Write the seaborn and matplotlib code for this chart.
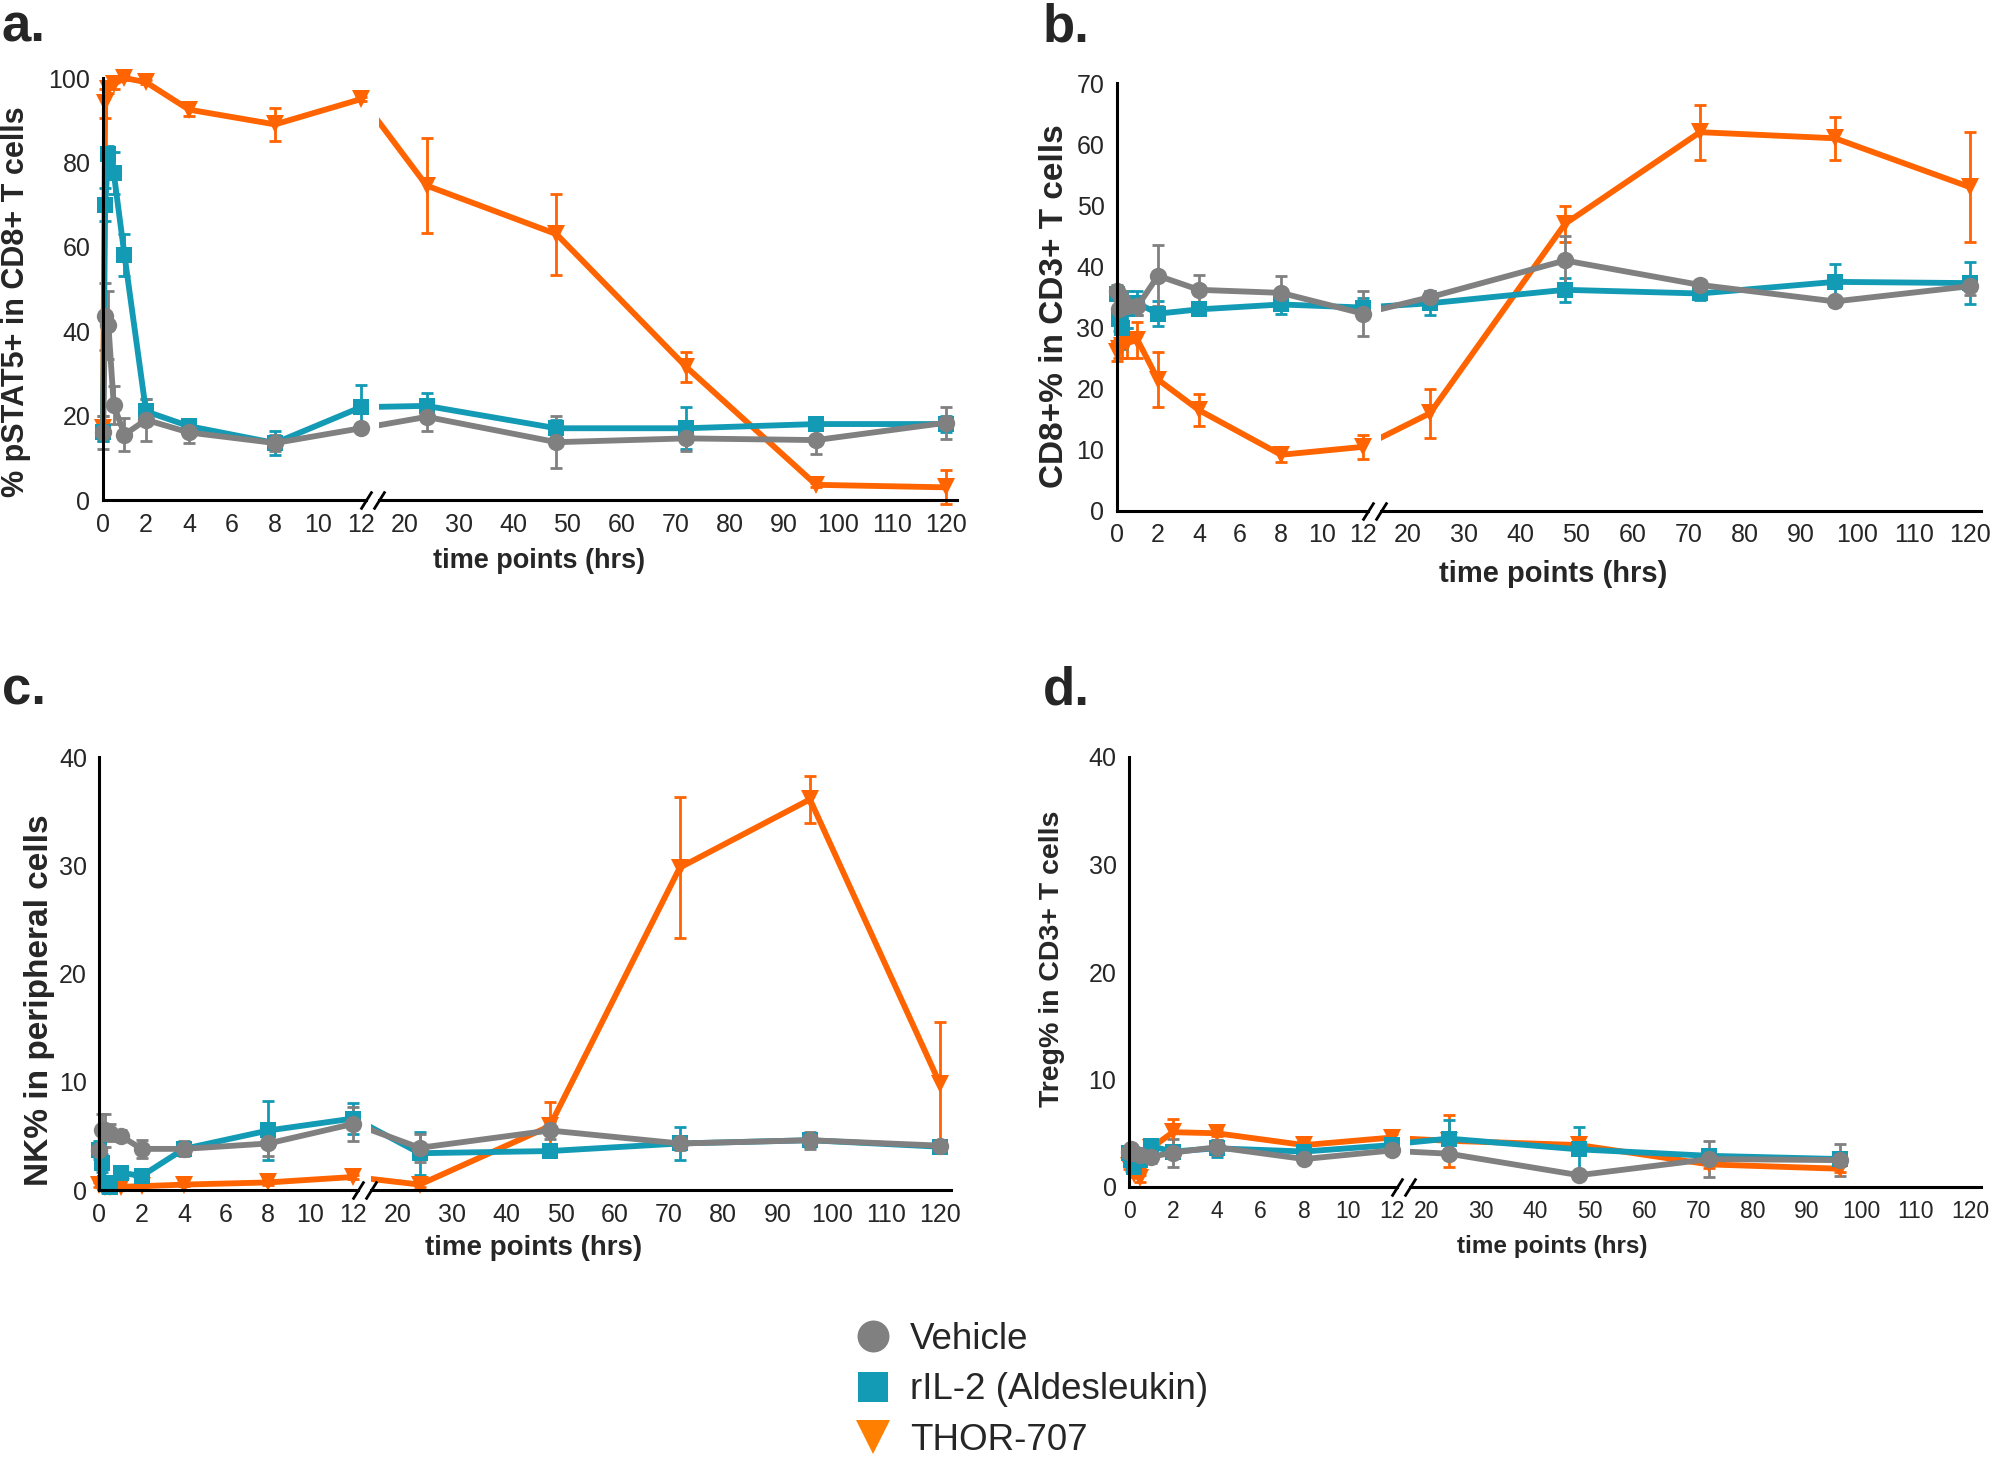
import numpy as np
import pandas as pd
import matplotlib
matplotlib.use("Agg")
import matplotlib.pyplot as plt
import seaborn as sns
from matplotlib.lines import Line2D
from matplotlib.transforms import Bbox, TransformedBbox

# sampling times (hrs)
times = [0, 0.1, 0.25, 0.5, 1, 2, 4, 8, 12, 24, 48, 72, 96, 120]

groups = ["Vehicle", "rIL-2 (Aldesleukin)", "THOR-707"]

# a. % pSTAT5+ in CD8+ T cells
a_vehicle = [16, 43.5, 41.5, 22.5, 15.5, 19, 16, 13.5, 17, 19.7, 13.7, 14.6, 14.2, 18.3]
a_vehicle_err = [4, 8, 8, 4.5, 4, 5, 2.5, 2, 0.5, 3.3, 6.2, 3, 3.4, 3.8]
a_il2 = [16, 70, 82, 77.5, 58, 21, 17.5, 13.5, 22, 22.3, 17, 17, 18, 18]
a_il2_err = [2, 4, 2, 5, 5, 3, 1.5, 2.8, 5.3, 3, 2, 5, 1, 2]
a_thor = [17, 94, 97.5, 98.5, 100, 99, 92.5, 89, 95, 74.5, 63, 31.5, 3.6, 3]
a_thor_err = [3, 3.5, 1, 1, 0.5, 0.5, 1.5, 4, 0.5, 11.2, 9.6, 3.6, 0.5, 4]

# b. CD8+% in CD3+ T cells
b_vehicle = [36, 33, 34.5, 33.5, 33.5, 38.5, 36.2, 35.7, 32.3, 35, 41, 37, 34.3, 36.8]
b_vehicle_err = [1, 2, 1.5, 1.5, 1.5, 5, 2.4, 2.8, 3.7, 1, 4, 0.8, 0.8, 1.5]
b_il2 = [35.5, 31.5, 30, 33, 34, 32.3, 33, 33.8, 33.3, 34, 36.2, 35.6, 37.5, 37.3]
b_il2_err = [1, 2, 3.5, 3, 2, 2, 1, 1.5, 1.5, 2, 2, 1, 3, 3.5]
b_thor = [26, 26.5, 27, 27.5, 28, 21.5, 16.5, 9.2, 10.5, 16, 47, 62, 61, 53]
b_thor_err = [1.5, 1.5, 2, 2.5, 3, 4.5, 2.6, 1.2, 2, 4, 3, 4.5, 3.5, 9]

# c. NK% in peripheral cells
c_vehicle = [3.7, 5.5, 5.5, 5.3, 5.0, 3.8, 3.8, 4.3, 6.1, 3.9, 5.5, 4.3, 4.6, 4.1]
c_vehicle_err = [0.5, 1.5, 1.5, 0.8, 0.5, 0.8, 0.7, 1.2, 1.6, 1.3, 0.8, 0.6, 0.8, 0.4]
c_il2 = [3.7, 2.5, 0.65, 0.3, 1.6, 1.3, 3.8, 5.5, 6.6, 3.4, 3.6, 4.3, 4.6, 4.0]
c_il2_err = [0.8, 0.8, 0.3, 0.2, 0.5, 0.4, 0.5, 2.7, 1.4, 2.0, 0.4, 1.5, 0.6, 0.6]
c_thor = [0.5, 0.4, 0.3, 0.3, 0.3, 0.35, 0.5, 0.7, 1.2, 0.5, 5.9, 29.8, 36.1, 9.8]
c_thor_err = [0.2, 0.1, 0.1, 0.1, 0.1, 0.1, 0.1, 0.2, 0.2, 0.2, 2.2, 6.5, 2.2, 5.7]

# d. Treg% in CD3+ T cells (no 120 h sample)
d_vehicle = [3.3, 3.5, 3.2, 3.0, 2.8, 3.2, 3.7, 2.6, 3.4, 3.1, 1.1, 2.6, 2.5, np.nan]
d_vehicle_err = [0.3, 0.3, 0.3, 0.3, 0.6, 1.3, 0.7, 0.2, 0.3, 0.4, 0.3, 1.7, 1.5, np.nan]
d_il2 = [3.2, 2.5, 1.9, 2.5, 3.8, 3.3, 3.6, 3.3, 3.9, 4.5, 3.5, 2.9, 2.6, np.nan]
d_il2_err = [0.3, 0.4, 0.4, 0.5, 0.4, 0.5, 0.8, 0.3, 0.4, 1.7, 2.1, 0.4, 0.3, np.nan]
d_thor = [2.0, 1.8, 1.2, 0.8, 3.6, 5.1, 5.0, 3.9, 4.6, 4.3, 3.9, 2.1, 1.7, np.nan]
d_thor_err = [0.3, 0.3, 0.3, 0.3, 0.4, 1.2, 0.3, 0.3, 0.3, 2.4, 0.3, 0.3, 0.3, np.nan]

palette = {"Vehicle": "#808080", "rIL-2 (Aldesleukin)": "#139ab4", "THOR-707": "#ff6400"}
markers = {"Vehicle": "o", "rIL-2 (Aldesleukin)": "s", "THOR-707": "v"}
draw_order = ["THOR-707", "rIL-2 (Aldesleukin)", "Vehicle"]

W, H = 1999, 1457

sns.set_style("white")
plt.rcParams["font.family"] = ["Liberation Sans", "DejaVu Sans"]


def make_df(vals, errs):
    rows = []
    for g, v, e in zip(groups, vals, errs):
        for t, y, s in zip(times, v, e):
            rows.append({"time": t, "value": y, "err": s, "group": g})
    return pd.DataFrame(rows).dropna()


def draw_series(ax, df, clip_box=None):
    for g in draw_order:
        sub = df[df["group"] == g]
        ax.errorbar(sub["time"], sub["value"], yerr=sub["err"], fmt="none",
                    ecolor=palette[g], elinewidth=2, capsize=4.5, capthick=2)
    sns.lineplot(data=df, x="time", y="value", hue="group", style="group",
                 hue_order=draw_order, style_order=draw_order, palette=palette,
                 markers=markers, dashes=False, estimator=None, errorbar=None,
                 legend=False, ax=ax, linewidth=4.2, markersize=12.5,
                 markeredgewidth=0)
    for line in ax.lines:
        if line.get_marker() == "s":
            line.set_markersize(11)
        elif line.get_marker() == "v":
            line.set_markersize(13.5)
    for art in ax.lines + list(ax.collections):
        if clip_box is None:
            art.set_clip_on(False)
        else:
            art.set_clip_on(True)
            art.set_clip_box(clip_box)


def panel(vals, errs, geo, top, ystep, ylabel, ylab_pos, ylab_size,
          xlab_pos, xlab_size, xtick_size=18):
    L0, kl, R20, kr, Y0, ky = geo
    y_bot = Y0
    y_top = Y0 - top * ky
    # left segment 0-12 h
    l_left, l_right = L0, L0 + 12.25 * kl
    ax_l = fig.add_axes([l_left / W, 1 - y_bot / H, (l_right - l_left) / W,
                         (y_bot - y_top) / H])
    # right segment 12-120 h
    r_start = L0 + 12 * kl + 18
    r_lo = 20 - (R20 - r_start) / kr
    r_hi = 122
    r_end = R20 + (r_hi - 20) * kr
    ax_r = fig.add_axes([r_start / W, 1 - y_bot / H, (r_end - r_start) / W,
                         (y_bot - y_top) / H])

    df = make_df(vals, errs)
    draw_series(ax_l, df[df["time"] <= 12])
    ax_l.set_xlim(0, 12.25)
    ax_l.set_ylim(0, top)
    box = TransformedBbox(Bbox([[0, -0.15], [1.05, 1.15]]), ax_r.transAxes)
    draw_series(ax_r, df[df["time"] >= 12], clip_box=box)
    ax_r.set_xlim(r_lo, r_hi)
    ax_r.set_ylim(0, top)

    ax_l.set_xticks(range(0, 13, 2))
    ax_l.set_yticks(np.arange(0, top + 1, ystep))
    ax_r.set_xticks(range(20, 121, 10))
    ax_r.set_yticks([])
    for ax in (ax_l, ax_r):
        ax.set_xlabel("")
        ax.set_ylabel("")
        ax.patch.set_alpha(0)
        for side in ("top", "right"):
            ax.spines[side].set_visible(False)
        for side in ("left", "bottom"):
            ax.spines[side].set_linewidth(2.2)
            ax.spines[side].set_color("black")
        ax.tick_params(axis="both", direction="out", length=6, width=2,
                       color="black", labelsize=18, pad=3)
        ax.tick_params(axis="x", labelsize=xtick_size)
    ax_r.spines["left"].set_visible(False)

    # axis break marks
    brk = dict(marker=[(-1, -1.6), (1, 1.6)], markersize=13, linestyle="none",
               color="black", mec="black", mew=2, clip_on=False)
    ax_l.plot([1], [0], transform=ax_l.transAxes, **brk)
    ax_r.plot([0], [0], transform=ax_r.transAxes, **brk)

    fig.text(ylab_pos[0] / W, 1 - ylab_pos[1] / H, ylabel, rotation=90,
             ha="center", va="center", fontsize=ylab_size, fontweight="bold")
    fig.text(xlab_pos[0] / W, 1 - xlab_pos[1] / H, "time points (hrs)",
             ha="center", va="center", fontsize=xlab_size, fontweight="bold")


fig = plt.figure(figsize=(W / 100, H / 100), dpi=100)

panel([a_vehicle, a_il2, a_thor], [a_vehicle_err, a_il2_err, a_thor_err],
      (103, 21.5, 405, 5.41, 500, 4.22), 100, 20,
      "% pSTAT5+ in CD8+ T cells", (16, 302), 22, (539, 561), 19.5)
panel([b_vehicle, b_il2, b_thor], [b_vehicle_err, b_il2_err, b_thor_err],
      (1117, 20.5, 1407.5, 5.625, 511, 6.11), 70, 10,
      "CD8+% in CD3+ T cells", (1055, 306), 24, (1553, 574), 21)
panel([c_vehicle, c_il2, c_thor], [c_vehicle_err, c_il2_err, c_thor_err],
      (99.5, 21.1, 398, 5.42, 1190, 10.82), 40, 10,
      "NK% in peripheral cells", (40, 1000), 24, (534, 1248), 20)
panel([d_vehicle, d_il2, d_thor], [d_vehicle_err, d_il2_err, d_thor_err],
      (1129, 21.9, 1427, 5.43, 1187, 10.75), 40, 10,
      "Treg% in CD3+ T cells", (1052, 959), 20.5, (1552, 1247), 17.5,
      xtick_size=16.5)

for lab, x, y in [("a.", 2, 42), ("b.", 1043, 42), ("c.", 2, 704), ("d.", 1043, 704)]:
    fig.text(x / W, 1 - y / H, lab, ha="left", va="baseline",
             fontsize=38, fontweight="bold")

legend_colors = {"Vehicle": "#808080", "rIL-2 (Aldesleukin)": "#139ab4", "THOR-707": "#ff8000"}
handles = [Line2D([], [], linestyle="none", marker=markers[g], color=legend_colors[g],
                  markersize={"o": 23, "s": 22, "v": 24}[markers[g]], mew=0)
           for g in groups]
fig.legend(handles, groups, loc="upper left", bbox_to_anchor=(855 / W, 1 - 1322 / H),
           frameon=False, fontsize=26.5, handlelength=1.0, handletextpad=0.5,
           labelspacing=0.42, borderpad=0, borderaxespad=0)

fig.savefig("out.png", dpi=100)
